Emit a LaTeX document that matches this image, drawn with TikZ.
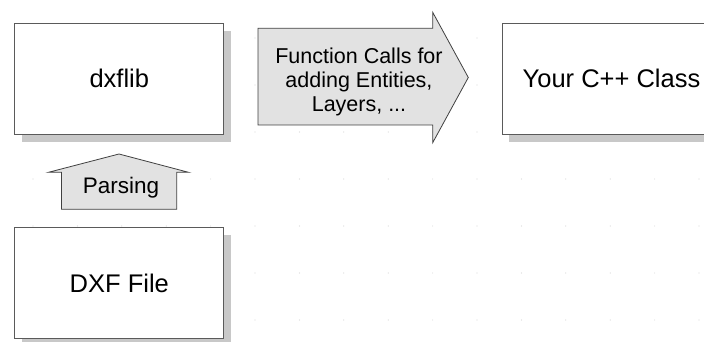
\documentclass[tikz,border=0pt]{standalone}
\usepackage{fontspec}
\setmainfont{Liberation Sans}
\usetikzlibrary{shadows}
\definecolor{boxline}{HTML}{5A5A5A}
\definecolor{arrowfill}{HTML}{E2E2E2}
\definecolor{shadowgray}{HTML}{C8C8C8}
\definecolor{griddot}{HTML}{D6D6D6}
\tikzset{blockbox/.style={draw=boxline,line width=0.9pt,fill=white,
                          minimum width=209pt,minimum height=111pt,
                          inner sep=0pt,font=\fontsize{25.5}{30}\selectfont,
                          drop shadow={shadow xshift=7pt,shadow yshift=-7.5pt,
                                       fill=shadowgray,opacity=1}},
         blockarrow/.style={draw=black!75,line width=0.8pt,fill=arrowfill,
                            line join=miter}}

\begin{document}
\begin{tikzpicture}[x=1pt,y=-1pt]
    \useasboundingbox (0,0) rectangle (704,342);
    % faint grid of the drawing sheet
    \foreach \i in {0,...,15}
      \foreach \j in {0,...,6}
        \fill[griddot] (33+44.4*\i,38+47*\j) circle (0.6pt);

    \node (lib)   at (119.3,78.6)  [blockbox]{dxflib};
    \node (dxf)   at (119.3,283.4) [blockbox]{DXF File};
    \node (class) at (611.5,78.6)  [blockbox,minimum width=219pt]{Your C++ Class};

    % function calls: big arrow lib -> class
    \draw[blockarrow] (258,28.3) -- (432.7,28.3) -- (432.7,12.3) -- (468.3,77.5)
        -- (432.7,142.7) -- (432.7,125) -- (258,125) -- cycle;
    \node (calls) at (359,81.9) [align=center,inner sep=0pt,
        font=\fontsize{21.5}{24.2}\selectfont]
        {Function Calls for\\adding Entities,\\Layers, ...};

    % parsing: up arrow dxf -> lib
    \draw[blockarrow] (61.5,209.3) -- (61.5,172.3) -- (48.5,172.3) -- (119,154)
        -- (188.5,172.3) -- (176.7,172.3) -- (176.7,209.3) -- cycle;
    \node (parse) at (121,193.3) [anchor=base,inner sep=0pt,
        font=\fontsize{22.5}{27}\selectfont]{Parsing};
\end{tikzpicture}
\end{document}
